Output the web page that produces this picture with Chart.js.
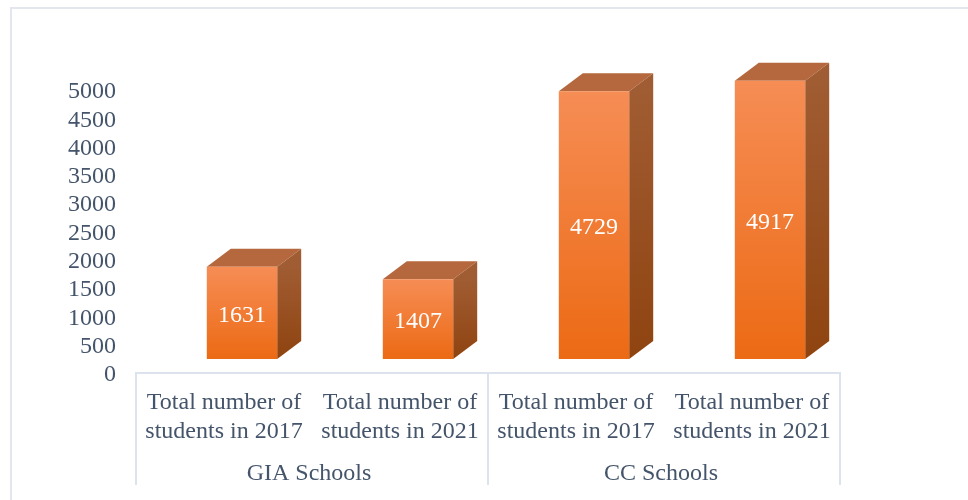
<!DOCTYPE html>
<html>
<head>
<meta charset="utf-8">
<script src="https://cdn.jsdelivr.net/npm/chart.js@4/dist/chart.umd.js"></script>
<style>
  html, body { margin: 0; padding: 0; background: #fff; overflow: hidden; }
  #wrap { position: relative; width: 968px; height: 500px; }
  #frame { position: absolute; left: 10px; top: 7px; right: 0; bottom: 0;
           border-left: 2px solid #e3e7ed; border-top: 2px solid #e3e7ed; }
  canvas { position: absolute; left: 0; top: 0; }
</style>
</head>
<body>
<div id="wrap">
  <div id="frame"></div>
  <canvas id="grafica" width="968" height="500"></canvas>
</div>
<script>
var categorias = [
  ['Total number of', 'students in 2017'],
  ['Total number of', 'students in 2021'],
  ['Total number of', 'students in 2017'],
  ['Total number of', 'students in 2021']
];
var grupos = ['GIA Schools', 'CC Schools'];
var alumnos = [1631, 1407, 4729, 4917];
var ticksY = [0, 500, 1000, 1500, 2000, 2500, 3000, 3500, 4000, 4500, 5000];

var serif = '"Liberation Serif", "Times New Roman", serif';
var colorTexto = '#44546a';
var colorEje = '#dde3ec';
// the 3d box sits off the axis floor
var shiftX = 18, shiftY = -14, depthX = 24, depthY = -18;

function vertical(ctx, y0, y1, c0, c1) {
  var g = ctx.createLinearGradient(0, y0, 0, y1);
  g.addColorStop(0, c0);
  g.addColorStop(1, c1);
  return g;
}

var caja3d = {
  id: 'caja3d',
  beforeDatasetDraw: function (chart, args) {
    var ctx = chart.ctx;
    ctx.save();
    ctx.translate(shiftX, shiftY);
    args.meta.data.forEach(function (bar) {
      var l = bar.x - bar.width / 2, r = bar.x + bar.width / 2;
      // top face
      ctx.beginPath();
      ctx.moveTo(l, bar.y);
      ctx.lineTo(l + depthX, bar.y + depthY);
      ctx.lineTo(r + depthX, bar.y + depthY);
      ctx.lineTo(r, bar.y);
      ctx.closePath();
      ctx.fillStyle = '#b5683d';
      ctx.fill();
      // side face
      ctx.beginPath();
      ctx.moveTo(r, bar.y);
      ctx.lineTo(r + depthX, bar.y + depthY);
      ctx.lineTo(r + depthX, bar.base + depthY);
      ctx.lineTo(r, bar.base);
      ctx.closePath();
      ctx.fillStyle = vertical(ctx, bar.y, bar.base, '#a05c32', '#8f4410');
      ctx.fill();
    });
  },
  afterDatasetDraw: function (chart) {
    chart.ctx.restore();
  },
  afterDatasetsDraw: function (chart) {
    var ctx = chart.ctx;
    var meta = chart.getDatasetMeta(0);
    ctx.save();
    ctx.font = '24px ' + serif;
    ctx.fillStyle = '#ffffff';
    ctx.textAlign = 'center';
    ctx.textBaseline = 'middle';
    meta.data.forEach(function (bar, i) {
      ctx.fillText(alumnos[i], bar.x + shiftX, (bar.y + bar.base) / 2 + shiftY + 3);
    });
    ctx.restore();
  },
  afterDraw: function (chart) {
    // group separators of the two level axis
    var ctx = chart.ctx, g = chart.scales.grupo, x = chart.scales.x;
    var step = (g.right - g.left) / grupos.length;
    ctx.save();
    ctx.strokeStyle = colorEje;
    ctx.lineWidth = 2;
    ctx.beginPath();
    for (var i = 0; i <= grupos.length; i++) {
      ctx.moveTo(g.left + step * i, x.top);
      ctx.lineTo(g.left + step * i, g.bottom);
    }
    ctx.stroke();
    ctx.restore();
  }
};

var grafica = new Chart(document.getElementById('grafica'), {
  type: 'bar',
  data: {
    labels: categorias,
    datasets: [{
      data: alumnos,
      barPercentage: 0.4,
      categoryPercentage: 1,
      borderWidth: 0,
      backgroundColor: function (c) {
        var chart = c.chart;
        if (!chart.chartArea || c.raw === undefined) return '#f47b2f';
        var y = chart.scales.y;
        return vertical(chart.ctx, y.getPixelForValue(c.raw), y.getPixelForValue(0), '#f68d55', '#ec6a14');
      }
    }]
  },
  plugins: [caja3d],
  options: {
    responsive: false,
    animation: false,
    layout: { padding: { top: 90, right: 128, bottom: 15, left: 0 } },
    plugins: { legend: { display: false }, title: { display: false }, tooltip: { enabled: false } },
    scales: {
      y: {
        min: 0,
        max: 5000,
        afterFit: function (s) { s.width = 136; },
        afterBuildTicks: function (s) { s.ticks = ticksY.map(function (v) { return { value: v }; }); },
        grid: { display: false },
        border: { display: false },
        ticks: {
          color: colorTexto,
          padding: 12,
          labelOffset: 2,
          font: { family: serif, size: 24 },
          autoSkip: false,
          maxRotation: 0,
          callback: function (v) { return String(v); }
        }
      },
      x: {
        position: 'bottom',
        grid: { display: false },
        border: { display: true, color: colorEje, width: 2 },
        afterFit: function (s) { s.height = 76; },
        ticks: { color: colorTexto, padding: 7, font: { family: serif, size: 24, lineHeight: 1.21 }, autoSkip: false, maxRotation: 0 }
      },
      grupo: {
        type: 'category',
        position: 'bottom',
        labels: grupos,
        offset: true,
        grid: { display: false },
        border: { display: false },
        afterFit: function (s) { s.height = 36; },
        ticks: { color: colorTexto, padding: 2, labelOffset: -3, font: { family: serif, size: 24 }, autoSkip: false, maxRotation: 0 }
      }
    }
  }
});
</script>
</body>
</html>
